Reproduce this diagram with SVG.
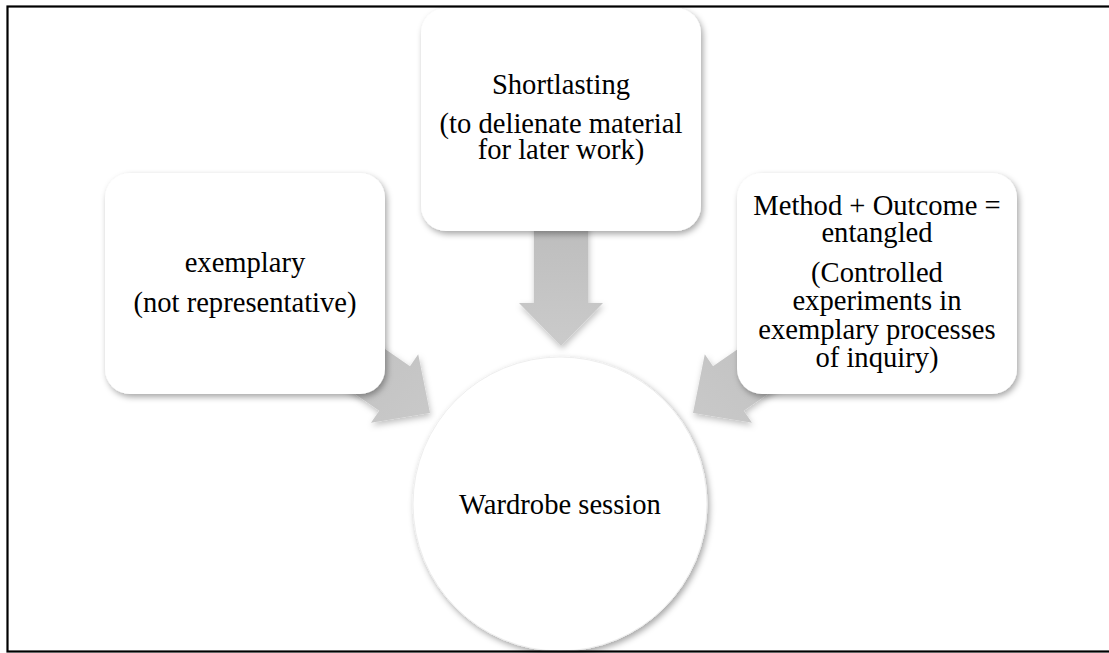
<svg xmlns="http://www.w3.org/2000/svg" width="1109" height="653" viewBox="0 0 1109 653">
<style>
  .box { fill: #ffffff; filter: url(#sh); }
  .t { font-family: "Liberation Serif", "Times New Roman", serif; font-size: 28.6px; fill: #000000; text-anchor: middle; }
  .arrow { filter: url(#ash); }
</style>
<defs>
  <filter id="sh" x="-20%" y="-20%" width="140%" height="140%">
    <feDropShadow dx="2" dy="3" stdDeviation="3" flood-color="#000000" flood-opacity="0.35"/>
  </filter>
  <filter id="ash" x="-30%" y="-30%" width="160%" height="160%">
    <feDropShadow dx="1" dy="3" stdDeviation="3" flood-color="#000000" flood-opacity="0.25"/>
  </filter>
  <linearGradient id="gTop" x1="0" y1="0" x2="0" y2="1">
    <stop offset="0" stop-color="#bababa"/>
    <stop offset="1" stop-color="#cbcbcb"/>
  </linearGradient>
  <linearGradient id="gL" x1="0" y1="0" x2="1" y2="1">
    <stop offset="0" stop-color="#bcbcbc"/>
    <stop offset="1" stop-color="#c9c9c9"/>
  </linearGradient>
  <linearGradient id="gR" x1="1" y1="0" x2="0" y2="1">
    <stop offset="0" stop-color="#bcbcbc"/>
    <stop offset="1" stop-color="#c9c9c9"/>
  </linearGradient>
</defs>
<rect x="0" y="0" width="1109" height="653" fill="#ffffff"/>

<g id="connectors">
  <polygon class="arrow" fill="url(#gTop)" points="534,200 588,200 588,303 603,303 561,346 519,303 534,303"/>
  <polygon class="arrow" fill="url(#gL)" points="311.2,298 410,366.3 418.2,354.3 430,413 371,422.7 379.2,410.7 280.4,342.4"/>
  <polygon class="arrow" fill="url(#gR)" points="811.8,298 713,366.3 704.8,354.3 693,413 752,422.7 743.8,410.7 842.6,342.4"/>
</g>

<g id="node-shortlasting">
  <rect class="box" x="421" y="8" width="280" height="223" rx="25" ry="25"/>
  <text class="t" x="561" y="94">Shortlasting</text>
  <text class="t" x="561" y="133">(to delienate material</text>
  <text class="t" x="561" y="159">for later work)</text>
</g>

<g id="node-exemplary">
  <rect class="box" x="105" y="173" width="280" height="221" rx="25" ry="25"/>
  <text class="t" x="245" y="272">exemplary</text>
  <text class="t" x="245" y="312">(not representative)</text>
</g>

<g id="node-method">
  <rect class="box" x="737" y="173" width="280" height="221" rx="25" ry="25"/>
  <text class="t" x="877" y="215">Method + Outcome =</text>
  <text class="t" x="877" y="242">entangled</text>
  <text class="t" x="877" y="282">(Controlled</text>
  <text class="t" x="877" y="310">experiments in</text>
  <text class="t" x="877" y="339">exemplary processes</text>
  <text class="t" x="877" y="367">of inquiry)</text>
</g>

<g id="node-wardrobe">
  <circle class="box" cx="560" cy="504" r="147" stroke="#eeeeee" stroke-width="1"/>
  <text class="t" x="560" y="514">Wardrobe session</text>
</g>

<rect x="7.5" y="6.5" width="1110" height="645" fill="none" stroke="#000000" stroke-width="2.2"/>
</svg>
